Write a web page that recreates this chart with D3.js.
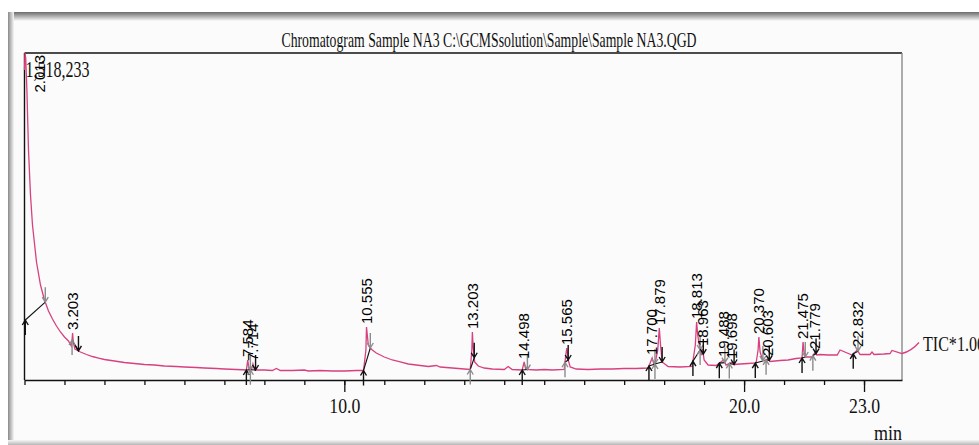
<!DOCTYPE html>
<meta charset="utf-8">
<style>
body { margin: 0; background: #fff; }
.trace { fill: none; stroke: #d8407f; stroke-width: 1.3px; }
.box { stroke: #111; stroke-width: 1.4px; fill: none; }
.tick line, .domain { stroke: #111; stroke-width: 1.3px; }
.serif { font-family: "Liberation Serif", "Times New Roman", "DejaVu Serif", serif; fill: #111; }
.plabel { font-family: "Liberation Sans", Arial, sans-serif; font-size: 15px; fill: #000; }
</style>
<svg width="979" height="445"></svg>
<script src="https://d3js.org/d3.v7.min.js"></script>
<script>

// TIC trace (min, counts)
var times = [2.000, 2.013, 2.030, 2.060, 2.100, 2.150, 2.200, 2.300, 2.400, 2.500,
  2.600, 2.700, 2.800, 2.900, 3.000, 3.100, 3.170, 3.190, 3.203, 3.220,
  3.260, 3.400, 3.550, 3.700, 3.850, 4.000, 4.250, 4.500, 4.750, 5.000,
  5.250, 5.500, 5.800, 6.000, 6.300, 6.500, 6.800, 7.000, 7.300, 7.550,
  7.584, 7.620, 7.680, 7.714, 7.760, 8.000, 8.200, 8.300, 8.400, 8.700,
  9.000, 9.100, 9.400, 9.700, 10.000, 10.300, 10.480, 10.540, 10.555, 10.575,
  10.600, 10.650, 10.700, 10.800, 10.900, 11.000, 11.200, 11.400, 11.600, 11.800,
  12.100, 12.300, 12.400, 12.700, 13.000, 13.150, 13.190, 13.203, 13.220, 13.260,
  13.350, 13.500, 13.700, 14.000, 14.100, 14.200, 14.450, 14.498, 14.540, 14.800,
  15.000, 15.200, 15.500, 15.540, 15.565, 15.580, 15.600, 15.650, 15.800, 16.100,
  16.400, 16.700, 17.000, 17.300, 17.600, 17.700, 17.760, 17.840, 17.879, 17.910,
  17.950, 18.100, 18.400, 18.700, 18.780, 18.813, 18.840, 18.900, 18.930, 18.963,
  19.000, 19.100, 19.300, 19.488, 19.550, 19.698, 19.750, 19.900, 20.100, 20.300,
  20.350, 20.370, 20.400, 20.470, 20.603, 20.650, 20.900, 21.100, 21.300, 21.450,
  21.475, 21.500, 21.530, 21.700, 21.779, 21.820, 21.900, 22.100, 22.330, 22.400,
  22.700, 22.832, 22.900, 23.150, 23.200, 23.250, 23.500, 23.650, 23.700, 23.950];

var counts = [1439300, 1518233, 1495000, 1346500, 1067900, 859000, 719700, 547900, 441100, 371400,
  320400, 283200, 250700, 222900, 199600, 181100, 157900, 185700, 218200, 176400,
  143900, 130000, 118400, 109100, 102100, 95200, 88200, 81300, 76600, 72000,
  69600, 65000, 62700, 60400, 58000, 55700, 53400, 51100, 48800, 46400,
  92900, 46400, 48800, 74300, 46400, 46400, 44100, 53400, 44100, 44100,
  46400, 41800, 44100, 41800, 41800, 44100, 44100, 139300, 246100, 208900,
  162500, 148600, 139300, 125400, 116100, 106800, 92900, 83600, 74300, 69600,
  62700, 67300, 60400, 55700, 51100, 48800, 139300, 222900, 162500, 83600,
  65000, 55700, 51100, 48800, 62700, 48800, 46400, 83600, 48800, 46400,
  48800, 46400, 48800, 116100, 148600, 130000, 92900, 60400, 51100, 48800,
  51100, 51100, 53400, 53400, 55700, 102100, 65000, 139300, 241400, 162500,
  83600, 62700, 60400, 62700, 162500, 269300, 208900, 139300, 116100, 143900,
  92900, 69600, 67300, 92900, 69600, 83600, 72000, 74300, 76600, 78900,
  139300, 199600, 130000, 88200, 97500, 85900, 90500, 92900, 99800, 102100,
  176400, 130000, 106800, 106800, 130000, 116100, 118400, 116100, 116100, 139300,
  116100, 139300, 118400, 118400, 130000, 118400, 120700, 123000, 137000, 123000];

// integrated peaks: retention time, start and end of integration (min)
var peakRT    = [2.013, 3.203, 7.584, 7.714, 10.555, 13.203, 14.498, 15.565, 17.700, 17.879,
  18.813, 18.963, 19.488, 19.698, 20.370, 20.603, 21.475, 21.779, 22.832];
var peakStart = [2.02, 3.19, 7.55, 7.65, 10.48, 13.15, 14.45, 15.52, 17.62, 17.77,
  18.72, 18.90, 19.38, 19.63, 20.28, 20.55, 21.45, 21.72, 22.73];
var peakEnd   = [2.52, 3.35, 7.65, 7.78, 10.65, 13.25, 14.58, 15.60, 17.77, 17.95,
  18.90, 18.98, 19.52, 19.75, 20.47, 20.63, 21.53, 21.80, 22.85];
var peakStartLevel = [278600, null, null, null, null, null, null, null, null, null,
  null, null, null, null, null, null, null, null, null];

var minorTicks = d3.range(2, 24);
var majorTicks = [10, 20, 23];

var title = "Chromatogram Sample NA3 C:\\GCMSsolution\\Sample\\Sample NA3.QGD";
var maxLabel = "1,518,233";
var traceLabel = "TIC*1.00";
var unitLabel = "min";

var svg = d3.select("svg"),
    width = +svg.attr("width"),
    height = +svg.attr("height");

var plotTop = 53, plotBottom = 380;

var x = d3.scaleLinear().domain([2, 23.95]).range([24.5, 902]);
var y = d3.scaleLinear().domain([0, 1518233]).range([plotBottom, plotTop]);

// window frame with shadow
var defs = svg.append("defs");
var gTop = defs.append("linearGradient").attr("id", "gtop").attr("x1", 0).attr("y1", 0).attr("x2", 0).attr("y2", 1);
gTop.append("stop").attr("offset", 0).attr("stop-color", "#6a6a6a");
gTop.append("stop").attr("offset", 1).attr("stop-color", "#fafafa");
var gLeft = defs.append("linearGradient").attr("id", "gleft").attr("x1", 0).attr("y1", 0).attr("x2", 1).attr("y2", 0);
gLeft.append("stop").attr("offset", 0).attr("stop-color", "#8a8a8a");
gLeft.append("stop").attr("offset", 1).attr("stop-color", "#f6f6f6");
var gBot = defs.append("linearGradient").attr("id", "gbot").attr("x1", 0).attr("y1", 0).attr("x2", 0).attr("y2", 1);
gBot.append("stop").attr("offset", 0).attr("stop-color", "#f6f6f6");
gBot.append("stop").attr("offset", 1).attr("stop-color", "#b5b5b5");

svg.append("rect").attr("width", width).attr("height", height).attr("fill", "#fff");
svg.append("rect").attr("x", 8).attr("y", 12).attr("width", width - 8).attr("height", height - 12).attr("fill", "#fbfbfb");
svg.append("rect").attr("x", 8).attr("y", 12).attr("width", width - 8).attr("height", 9).attr("fill", "url(#gtop)");
svg.append("rect").attr("x", 8).attr("y", 12).attr("width", 6).attr("height", height - 12).attr("fill", "url(#gleft)");
svg.append("rect").attr("x", 8).attr("y", height - 5).attr("width", width - 8).attr("height", 5).attr("fill", "url(#gbot)");

// title
svg.append("text").attr("class", "serif")
    .attr("x", 489).attr("y", 47)
    .attr("text-anchor", "middle")
    .attr("font-size", 21)
    .attr("textLength", 415).attr("lengthAdjust", "spacingAndGlyphs")
    .text(title);

// plot box
svg.append("line").attr("class", "box")
    .attr("x1", x.range()[0]).attr("x2", x.range()[1]).attr("y1", plotTop).attr("y2", plotTop);
svg.append("line").attr("class", "box")
    .attr("x1", x.range()[0]).attr("x2", x.range()[0]).attr("y1", plotTop).attr("y2", plotBottom);
svg.append("line").attr("stroke", "#8a8a8a").attr("stroke-width", 1.4)
    .attr("x1", x.range()[1]).attr("x2", x.range()[1]).attr("y1", plotTop).attr("y2", plotBottom);

// axis
svg.append("g")
    .attr("transform", "translate(0," + plotBottom + ")")
    .call(d3.axisBottom(x).tickValues(minorTicks).tickSize(5).tickSizeOuter(0).tickFormat(""))
    .call(function(g) { g.select(".domain").remove(); });

var ax = svg.append("g")
    .attr("transform", "translate(0," + plotBottom + ")")
    .call(d3.axisBottom(x).tickValues(majorTicks).tickSize(12).tickSizeOuter(0).tickPadding(6).tickFormat(d3.format(".1f")));
ax.selectAll("text")
    .attr("class", "serif")
    .attr("font-size", 21)
    .attr("textLength", 31).attr("lengthAdjust", "spacingAndGlyphs")
    .attr("fill", "#111");

svg.append("text").attr("class", "serif")
    .attr("x", x.range()[1]).attr("y", 440)
    .attr("text-anchor", "end").attr("font-size", 21)
    .attr("textLength", 28).attr("lengthAdjust", "spacingAndGlyphs")
    .text(unitLabel);

// trace
var pts = times.map(function(t, i) { return [t, counts[i]]; });
var line = d3.line().x(function(d) { return x(d[0]); }).y(function(d) { return y(d[1]); });
svg.append("path").datum(pts).attr("class", "trace").attr("d", line);

// leader to trace label
var last = pts[pts.length - 1];
var xe = x(last[0]), ye = y(last[1]);
svg.append("path").attr("class", "trace")
    .attr("d", "M" + xe + "," + ye + " Q" + (xe + 9) + "," + (ye - 2) + " " + (xe + 17) + "," + (ye - 11));
svg.append("text").attr("class", "serif")
    .attr("x", xe + 21).attr("y", ye - 3)
    .attr("font-size", 21)
    .attr("textLength", 62).attr("lengthAdjust", "spacingAndGlyphs")
    .text(traceLabel);

// max intensity label
svg.append("text").attr("class", "serif")
    .attr("x", x.range()[0] + 1).attr("y", 77)
    .attr("font-size", 23)
    .attr("textLength", 64).attr("lengthAdjust", "spacingAndGlyphs")
    .text(maxLabel);

var bis = d3.bisector(function(d) { return d[0]; }).left;
function level(t) {
  var i = bis(pts, t);
  if (i <= 0) return pts[0][1];
  if (i >= pts.length) return pts[pts.length - 1][1];
  var a = pts[i - 1], b = pts[i];
  return a[1] + (b[1] - a[1]) * (t - a[0]) / (b[0] - a[0]);
}

function arrow(g, px, py, up, color) {
  var len = 15, s = up ? 1 : -1;
  g.append("path")
    .attr("fill", "none").attr("stroke", color).attr("stroke-width", 1.4)
    .attr("d", "M" + px + "," + (py + s * len) + " L" + px + "," + py +
               " M" + (px - 3) + "," + (py + s * 5) + " L" + px + "," + py + " L" + (px + 3) + "," + (py + s * 5));
}

var marks = svg.append("g");
peakRT.forEach(function(rt, i) {
  var sx = x(peakStart[i]), sy = y(peakStartLevel[i] != null ? peakStartLevel[i] : level(peakStart[i]));
  var ex = x(peakEnd[i]), ey = y(level(peakEnd[i]));
  marks.append("line").attr("stroke", "#111").attr("stroke-width", 1.1)
      .attr("x1", sx).attr("y1", sy).attr("x2", ex).attr("y2", ey);
  var c1 = i % 2 ? "#8c8c8c" : "#111", c2 = i % 2 ? "#111" : "#8c8c8c";
  arrow(marks, sx, sy, true, c1);
  arrow(marks, ex, ey, false, c2);
});

// peak labels
var labels = svg.append("g");
peakRT.forEach(function(rt, i) {
  var t = labels.append("text").attr("class", "plabel").text(d3.format(".3f")(rt));
  var len = t.node().getComputedTextLength();
  var px = Math.max(x(rt), x.range()[0] + 15);
  var py = Math.max(y(level(rt)) - 3, plotTop + len + 2);
  t.attr("transform", "translate(" + px + "," + py + ") rotate(-90)").attr("dy", "0.35em");
});

</script>
